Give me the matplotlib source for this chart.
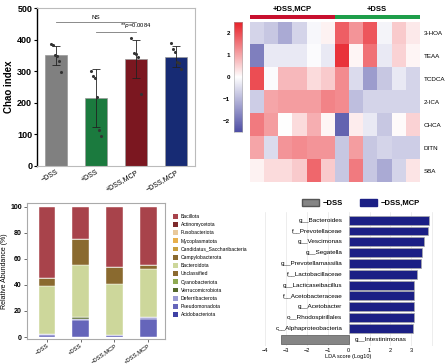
import numpy as np
import matplotlib
matplotlib.use("Agg")
import matplotlib.pyplot as plt
from matplotlib.colors import LinearSegmentedColormap
from matplotlib.patches import Patch

plt.rcParams['font.family'] = ['Liberation Sans', 'DejaVu Sans']

# ---- panel A: Chao index
chao_groups = ['\u2212DSS', '+DSS', '+DSS,MCP', '\u2212DSS,MCP']
chao_mean = [350, 215, 338, 346]
chao_sd = [31, 92, 61, 33]
chao_points = [
    [385, 382, 350, 348, 333, 298],
    [300, 285, 278, 218, 113, 95],
    [405, 358, 353, 345, 228],
    [388, 370, 360, 330, 325, 306],
]
chao_colors = ['#808080', '#1b7a3e', '#7b1720', '#172b74']

# ---- panel B: heatmap (z-scores)
hm_rows = ['3-HOA', 'TEAA', 'TCDCA', '2-ICA', 'CHCA', 'DITN', 'SBA']
hm_groups = ['+DSS,MCP', '+DSS']
hm_values = [
    [-0.6, -0.8, -1.2, -0.6, -0.1, 0.15, 1.8, 1.2, 1.9, -0.15, 0.6, 0.25],
    [-1.8, -0.3, -0.3, -0.3, -0.05, -0.3, 2.3, 0.1, 1.6, -0.3, 0.5, 0.1],
    [2.0, -0.05, 0.8, 0.8, 0.4, 0.6, 1.3, -0.5, -1.4, -0.8, -0.3, -0.6],
    [-0.7, 1.0, 1.1, 1.1, 1.1, 1.4, 1.3, -0.9, -0.6, -0.6, -0.6, -0.6],
    [1.5, 1.1, 0.0, 0.4, 0.9, 0.1, -2.2, 0.2, -0.3, -0.8, 0.05, 0.5],
    [1.0, -0.5, 1.2, 1.3, 1.2, 1.2, -0.8, 1.1, -0.8, -0.6, -0.7, -0.7],
    [0.15, 0.4, 0.4, 0.6, 1.7, 0.6, -0.8, 1.5, -0.8, -1.2, -0.6, 0.3],
]

# ---- panel C: relative abundance (%)
ra_groups = ['\u2212DSS', '+DSS', '\u2212DSS,MCP', '+DSS,MCP']
ra_taxa = ['Bacillota', 'Actinomycetota', 'Fusobacteriota', 'Mycoplasmatota',
           'Candidatus_Saccharibacteria', 'Campylobacterota', 'Bacteroidota',
           'Unclassified', 'Cyanobacteriota', 'Verrucomicrobiota',
           'Deferribacterota', 'Pseudomonadota', 'Acidobacteriota']
ra_colors = ['#a8434b', '#7e2a2c', '#e9c99b', '#e8b04c', '#c9a03e', '#8a6a2f',
             '#cdd79b', '#8c6a30', '#8faa52', '#55692c', '#9b9bd3', '#6565ba', '#3f41a5']
# stacked bottom -> top : Acidobacteriota ... Bacillota
ra_values = {
    'Acidobacteriota':   [0.2, 0.2, 0.2, 0.2],
    'Pseudomonadota':    [1.6, 12.8, 1.0, 13.8],
    'Deferribacterota':  [0.5, 1.0, 0.3, 1.0],
    'Verrucomicrobiota': [0.0, 1.2, 0.0, 0.1],
    'Cyanobacteriota':   [0.0, 0.3, 0.0, 0.1],
    'Unclassified':      [0.0, 0.0, 0.0, 0.0],
    'Bacteroidota':      [36.7, 39.5, 39.0, 36.8],
    'Campylobacterota':  [6.0, 20.0, 13.5, 3.5],
    'Candidatus_Saccharibacteria': [0.0, 0.0, 0.0, 0.0],
    'Mycoplasmatota':    [0.0, 0.0, 0.0, 0.0],
    'Fusobacteriota':    [0.0, 0.0, 0.0, 0.0],
    'Actinomycetota':    [0.0, 0.0, 0.0, 0.0],
    'Bacillota':         [55.0, 25.0, 46.0, 44.5],
}

# ---- panel D: LEfSe LDA
lda_taxa = ['g__Bacteroides', 'f__Prevotellaceae', 'g__Vescimonas', 'g__Segatella',
            'g__Prevotellamassilia', 'f__Lactobacillaceae', 'g__Lacticaseibacillus',
            'f__Acetobacteraceae', 'g__Acetobacter', 'o__Rhodospirillales',
            'c__Alphaproteobacteria', 'g__Intestinimonas']
lda_scores = [3.87, 3.82, 3.63, 3.5, 3.47, 3.3, 3.15, 3.13, 3.13, 3.13, 3.07, -3.24]
lda_groups = ['\u2212DSS', '\u2212DSS,MCP']

fig = plt.figure(figsize=(4.47, 3.64), dpi=100)

# ================= A
ax1 = fig.add_axes([0.083, 0.544, 0.353, 0.434])
x = np.arange(len(chao_groups))
ax1.bar(x, chao_mean, width=0.57, color=chao_colors, edgecolor='#999999', linewidth=0.5, zorder=2)
ax1.errorbar(x, chao_mean, yerr=chao_sd, fmt='none', ecolor='#222222', elinewidth=0.6,
             capsize=3, capthick=0.6, zorder=3)
for i, pts in enumerate(chao_points):
    jit = np.linspace(-0.12, 0.12, len(pts))
    ax1.scatter(i + jit, pts, s=5, color='#333333', zorder=4, linewidths=0)
ax1.set_xlim(-0.475, 3.475)
ax1.set_ylim(0, 500)
ax1.set_yticks([0, 100, 200, 300, 400, 500])
ax1.set_yticklabels(['0', '100', '200', '300', '400', '500'], fontsize=6.5, fontweight='bold')
ax1.set_xticks(x)
ax1.set_xticklabels(chao_groups, rotation=30, fontsize=5, ha='right', rotation_mode='anchor')
ax1.set_ylabel('Chao index', fontsize=7, fontweight='bold', labelpad=2)
for s in ['top', 'right', 'bottom']:
    ax1.spines[s].set_color('#bbbbbb')
    ax1.spines[s].set_linewidth(0.8)
ax1.spines['left'].set_linewidth(1.0)
ax1.tick_params(axis='y', length=2.5, width=0.8, pad=1)
ax1.tick_params(axis='x', length=0, pad=2)
ax1.plot([0, 2], [456, 456], color='#777777', lw=0.6)
ax1.text(1, 462, 'NS', fontsize=4.5, ha='center', va='bottom')
ax1.plot([1, 2], [424, 424], color='#777777', lw=0.6)
ax1.text(2.0, 430, '**$p$=0.0084', fontsize=4.2, ha='center', va='bottom')

# ================= B
cmap = LinearSegmentedColormap.from_list('bwr2', ['#4f4fa6', '#ffffff', '#e8222a'])
ax2 = fig.add_axes([0.559, 0.5, 0.380, 0.44])
ax2.imshow(np.array(hm_values), cmap=cmap, vmin=-2.5, vmax=2.5, aspect='auto',
           interpolation='nearest')
ax2.set_xticks([])
ax2.set_yticks(np.arange(len(hm_rows)))
ax2.set_yticklabels(hm_rows, fontsize=4.5)
ax2.yaxis.tick_right()
ax2.tick_params(axis='y', length=0, pad=3)
for s in ax2.spines.values():
    s.set_visible(False)

axg = fig.add_axes([0.559, 0.948, 0.380, 0.011])
axg.imshow([[0, 1]], cmap=LinearSegmentedColormap.from_list('g', ['#c8102e', '#1e9e4a']),
           aspect='auto', extent=[0, 12, 0, 1])
axg.set_xlim(0, 12)
axg.axis('off')
axg.text(3, 1.6, hm_groups[0], fontsize=5.5, fontweight='bold', ha='center', va='bottom')
axg.text(9, 1.6, hm_groups[1], fontsize=5.5, fontweight='bold', ha='center', va='bottom')

axc = fig.add_axes([0.5235, 0.637, 0.018, 0.302])
grad = np.linspace(-2.5, 2.5, 200).reshape(-1, 1)
axc.imshow(grad, cmap=cmap, aspect='auto', origin='lower', extent=[0, 1, -2.5, 2.5])
axc.set_xticks([])
axc.set_yticks([2, 1, 0, -1, -2])
axc.set_yticklabels(['2', '1', '0', '\u22121', '\u22122'], fontsize=4.5, fontweight='bold')
axc.tick_params(axis='y', length=0, pad=3)
for s in axc.spines.values():
    s.set_color('#aaaaaa')
    s.set_linewidth(0.4)

# ================= C
ax3 = fig.add_axes([0.060, 0.0687, 0.309, 0.374])
xr = np.arange(len(ra_groups))
bottom = np.zeros(len(ra_groups))
for name in ra_taxa[::-1]:
    vals = np.array(ra_values[name])
    col = ra_colors[ra_taxa.index(name)]
    ax3.bar(xr, vals, bottom=bottom, width=0.5, color=col, edgecolor='white', linewidth=0.3)
    bottom += vals
ax3.set_xlim(-0.6, 3.5)
ax3.set_ylim(-1.5, 103)
ax3.set_yticks([0, 20, 40, 60, 80, 100])
ax3.set_yticklabels(['0', '20', '40', '60', '80', '100'], fontsize=5, fontweight='bold')
ax3.set_xticks(xr)
ax3.set_xticklabels(ra_groups, rotation=35, fontsize=4.2, ha='right', rotation_mode='anchor')
ax3.set_ylabel('Relative Abundance (%)', fontsize=5, labelpad=2)
for s in ax3.spines.values():
    s.set_color('#aaaaaa')
    s.set_linewidth(0.8)
ax3.tick_params(axis='y', length=2, width=0.6, pad=1.5, color='#555555')
ax3.tick_params(axis='x', length=2, width=0.6, pad=1, color='#555555')
handles = [Patch(facecolor=c, edgecolor='none') for c in ra_colors]
fig.legend(handles, ra_taxa, loc='upper left', bbox_to_anchor=(0.382, 0.418),
           fontsize=3.6, frameon=False, handlelength=1.1, handleheight=1.1,
           labelspacing=0.62, handletextpad=0.5, borderaxespad=0)

# ================= D
ax4 = fig.add_axes([0.591, 0.049, 0.378, 0.368])
yy = np.arange(len(lda_taxa))
bcols = ['#1b1f85' if v > 0 else '#858585' for v in lda_scores]
ecols = ['#aaaaaa' if v > 0 else '#555555' for v in lda_scores]
ax4.barh(yy, lda_scores, height=0.82, color=bcols, edgecolor=ecols, linewidth=0.5, zorder=2)
for i, (t, v) in enumerate(zip(lda_taxa, lda_scores)):
    if v > 0:
        ax4.text(-0.3, i, t, fontsize=4.6, ha='right', va='center')
    else:
        ax4.text(0.3, i, t, fontsize=4.6, ha='left', va='center')
ax4.set_xlim(-4.05, 4.05)
ax4.set_ylim(11.65, -0.74)
ax4.set_xticks(range(-4, 5))
ax4.set_xticklabels(['\u22124', '\u22123', '\u22122', '\u22121', '0', '1', '2', '3', ''],
                    fontsize=4)
ax4.set_yticks([])
ax4.grid(axis='x', color='#e6e6e6', lw=0.5, zorder=0)
for s in ax4.spines.values():
    s.set_visible(False)
ax4.tick_params(axis='x', length=0, pad=1)
ax4.set_xlabel('LDA score (Log10)', fontsize=4, labelpad=1)
lh = [Patch(facecolor='#858585', edgecolor='#555555'), Patch(facecolor='#1b1f85', edgecolor='#1b1f85')]
fig.legend(lh, lda_groups, loc='center left', bbox_to_anchor=(0.66, 0.442), ncol=2,
           fontsize=5.5, frameon=False, handlelength=2.2, handleheight=0.9,
           columnspacing=2.3, handletextpad=0.5, prop={'weight': 'bold', 'size': 5.5})

fig.savefig('out.png', dpi=100)
